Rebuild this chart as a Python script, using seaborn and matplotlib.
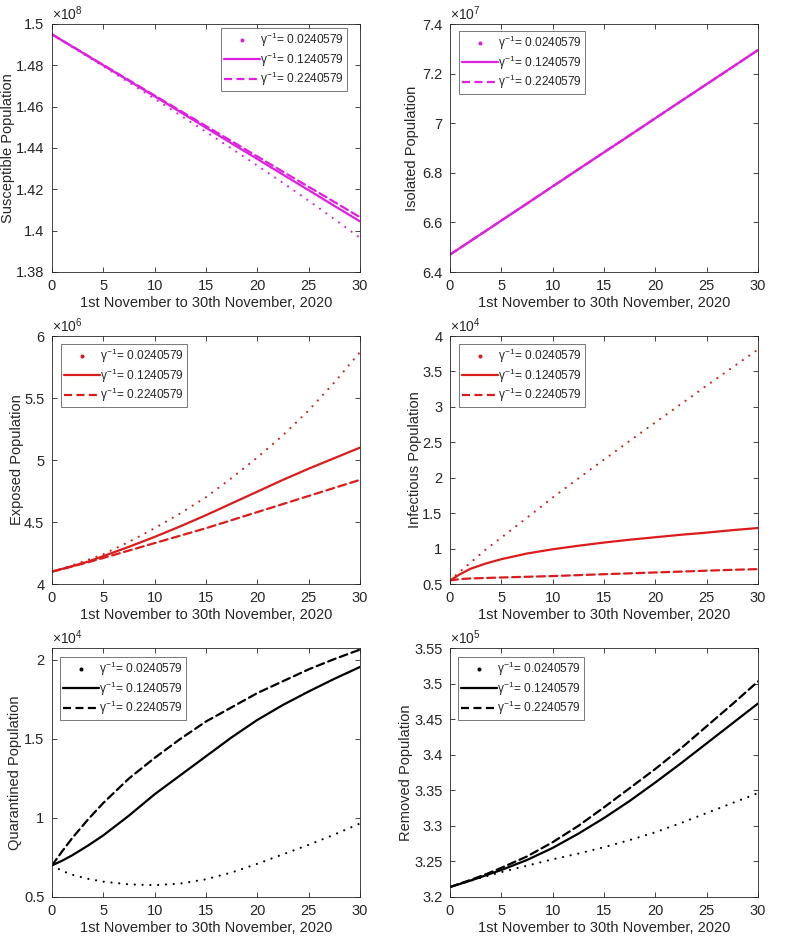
import numpy as np
import matplotlib
matplotlib.use('Agg')
import matplotlib.pyplot as plt
import matplotlib.ticker as mtick
from matplotlib.lines import Line2D
import seaborn as sns

# day index, 1st to 30th November 2020
days = [0, 1, 2, 3.5, 5, 7.5, 10, 12.5, 15, 17.5, 20, 22.5, 25, 27.5, 30]

gamma_labels = ['0.0240579', '0.1240579', '0.2240579']

# values in the units shown on each axis (x10^n)
susceptible_a = [1.495, 1.4919, 1.4888, 1.4841, 1.4795, 1.4717, 1.4638, 1.4558, 1.4478, 1.4397, 1.4315, 1.4231, 1.4145, 1.4056, 1.3965]
susceptible_b = [1.495, 1.4920, 1.4890, 1.4845, 1.4800, 1.4725, 1.4650, 1.4574, 1.4498, 1.4422, 1.4347, 1.4271, 1.4196, 1.4120, 1.4045]
susceptible_c = [1.495, 1.4920, 1.4891, 1.4846, 1.4802, 1.4728, 1.4654, 1.4580, 1.4506, 1.4433, 1.4359, 1.4285, 1.4212, 1.4139, 1.4065]

isolated_a = [6.470, 6.4975, 6.525, 6.566, 6.6075, 6.676, 6.745, 6.814, 6.8825, 6.951, 7.020, 7.089, 7.1575, 7.226, 7.295]
isolated_b = [6.470, 6.4975, 6.525, 6.566, 6.6075, 6.676, 6.745, 6.814, 6.8825, 6.951, 7.020, 7.089, 7.1575, 7.226, 7.295]
isolated_c = [6.470, 6.4975, 6.525, 6.566, 6.6075, 6.676, 6.745, 6.814, 6.8825, 6.951, 7.020, 7.089, 7.1575, 7.226, 7.295]

exposed_a = [4.10, 4.125, 4.152, 4.195, 4.24, 4.34, 4.45, 4.57, 4.70, 4.855, 5.02, 5.20, 5.40, 5.625, 5.87]
exposed_b = [4.10, 4.122, 4.145, 4.18, 4.225, 4.30, 4.38, 4.465, 4.555, 4.65, 4.745, 4.84, 4.93, 5.015, 5.10]
exposed_c = [4.10, 4.12, 4.142, 4.175, 4.21, 4.27, 4.33, 4.39, 4.45, 4.515, 4.58, 4.645, 4.71, 4.775, 4.84]

infectious_a = [0.55, 0.68, 0.80, 0.99, 1.155, 1.435, 1.72, 1.99, 2.255, 2.52, 2.78, 3.04, 3.30, 3.555, 3.81]
infectious_b = [0.55, 0.64, 0.715, 0.79, 0.85, 0.93, 0.99, 1.04, 1.085, 1.125, 1.16, 1.195, 1.225, 1.26, 1.29]
infectious_c = [0.55, 0.57, 0.578, 0.585, 0.592, 0.602, 0.612, 0.625, 0.638, 0.65, 0.663, 0.675, 0.688, 0.70, 0.71]

quarantined_a = [0.70, 0.665, 0.64, 0.615, 0.597, 0.58, 0.575, 0.585, 0.612, 0.655, 0.71, 0.77, 0.83, 0.895, 0.965]
quarantined_b = [0.70, 0.73, 0.765, 0.825, 0.89, 1.015, 1.15, 1.27, 1.39, 1.51, 1.62, 1.715, 1.80, 1.88, 1.955]
quarantined_c = [0.70, 0.79, 0.875, 0.99, 1.095, 1.25, 1.38, 1.50, 1.61, 1.70, 1.79, 1.865, 1.94, 2.005, 2.065]

removed_a = [3.214, 3.2185, 3.223, 3.229, 3.235, 3.244, 3.253, 3.261, 3.270, 3.280, 3.291, 3.304, 3.318, 3.332, 3.346]
removed_b = [3.214, 3.2185, 3.223, 3.2305, 3.238, 3.252, 3.269, 3.289, 3.311, 3.335, 3.361, 3.388, 3.416, 3.444, 3.472]
removed_c = [3.214, 3.219, 3.224, 3.232, 3.241, 3.257, 3.277, 3.300, 3.326, 3.353, 3.380, 3.409, 3.440, 3.471, 3.503]

MAGENTA = '#E01FE0'
RED = '#DC1C1C'
BLACK = '#000000'
AXCOL = '#262626'

sns.set_theme(style='ticks')
plt.rcParams['font.family'] = ['Liberation Sans', 'DejaVu Sans']
plt.rcParams['mathtext.fontset'] = 'custom'
plt.rcParams['mathtext.rm'] = 'Liberation Sans'
plt.rcParams['mathtext.it'] = 'Liberation Sans'

panels = [
    # (series, color, ylabel, exponent, ylim, yticks)
    ((susceptible_a, susceptible_b, susceptible_c), MAGENTA, 'Susceptible Population', 8,
     (1.38, 1.5), np.arange(1.38, 1.501, 0.02)),
    ((isolated_a, isolated_b, isolated_c), MAGENTA, 'Isolated Population', 7,
     (6.4, 7.4), np.arange(6.4, 7.401, 0.2)),
    ((exposed_a, exposed_b, exposed_c), RED, 'Exposed Population', 6,
     (4, 6), np.arange(4, 6.01, 0.5)),
    ((infectious_a, infectious_b, infectious_c), RED, 'Infectious Population', 4,
     (0.5, 4), np.arange(0.5, 4.01, 0.5)),
    ((quarantined_a, quarantined_b, quarantined_c), BLACK, 'Quarantined Population', 4,
     (0.5, 2.075), np.arange(0.5, 2.01, 0.5)),
    ((removed_a, removed_b, removed_c), BLACK, 'Removed Population', 5,
     (3.2, 3.55), np.arange(3.2, 3.551, 0.05)),
]

W, H = 797, 936
fig = plt.figure(figsize=(W / 100, H / 100), dpi=100)

col_x = [52, 450]
row_y = [(24, 272), (336, 584), (648, 897)]
ax_w = 308
# distance (px) from the y axis to the centre of the y label
ylabel_off = [44, 38, 35, 35, 37, 44]
# legend anchor (loc, dx px, dy px from the matching axes corner)
legend_pos = [('upper right', -13, -4), ('upper left', 9, -7), ('upper left', 9, -8),
              ('upper left', 9, -8), ('upper left', 8, -9), ('upper left', 8, -9)]

LW = 1.6
DOT = (0, (0.01, 3.5))
DASH = (0, (3.6, 2.0))
styles = [DOT, '-', DASH]

for i, (series, color, ylabel, expo, ylim, yticks) in enumerate(panels):
    r, c = divmod(i, 2)
    top, bottom = row_y[r]
    ah = bottom - top
    ax = fig.add_axes([col_x[c] / W, 1 - bottom / H, ax_w / W, ah / H])
    for vals, ls in zip(series, styles):
        sns.lineplot(x=days, y=vals, ax=ax, color=color, linestyle=ls,
                     linewidth=LW, dash_capstyle='round', legend=False)
    ax.set_xlim(0, 30)
    ax.set_ylim(*ylim)
    ax.set_xticks(range(0, 31, 5))
    ax.set_yticks(yticks)
    ax.yaxis.set_major_formatter(mtick.FuncFormatter(lambda v, p: f'{round(v, 3):g}'))
    ax.tick_params(direction='in', top=True, right=True, length=3.5, width=0.6,
                   labelsize=10.5, colors=AXCOL)
    ax.tick_params(axis='x', pad=5)
    ax.tick_params(axis='y', pad=5.5)
    for sp in ax.spines.values():
        sp.set_color(AXCOL)
        sp.set_linewidth(0.6)
    ax.set_xlabel('1st November to 30th November, 2020', fontsize=10.5, color=AXCOL, labelpad=2)
    ax.set_ylabel(ylabel, fontsize=10.5, color=AXCOL, va='center')
    ax.yaxis.set_label_coords(-ylabel_off[i] / ax_w, 0.5)
    ax.text(0.0, 1.004, r'$\times10^{%d}$' % expo, transform=ax.transAxes,
            ha='left', va='bottom', fontsize=10, color=AXCOL)

    handles = [
        Line2D([], [], color=color, linestyle='none', marker='o', markersize=1.9),
        Line2D([], [], color=color, linestyle='-', linewidth=LW),
        Line2D([], [], color=color, linestyle=DASH, linewidth=LW),
    ]
    labels = [r'$\gamma^{-1}$= ' + g for g in gamma_labels]
    loc, dx, dy = legend_pos[i]
    ax_x = 1.0 if 'right' in loc else 0.0
    leg = ax.legend(handles, labels, loc=loc,
                    bbox_to_anchor=(ax_x + dx / ax_w, 1 + dy / ah),
                    fontsize=8.6, frameon=True, fancybox=False,
                    handlelength=3.0, handletextpad=0.0, borderpad=0.25,
                    labelspacing=0.1, borderaxespad=0.0)
    leg.get_frame().set_edgecolor('#555555')
    leg.get_frame().set_linewidth(0.7)

fig.savefig('out.png', dpi=100)
